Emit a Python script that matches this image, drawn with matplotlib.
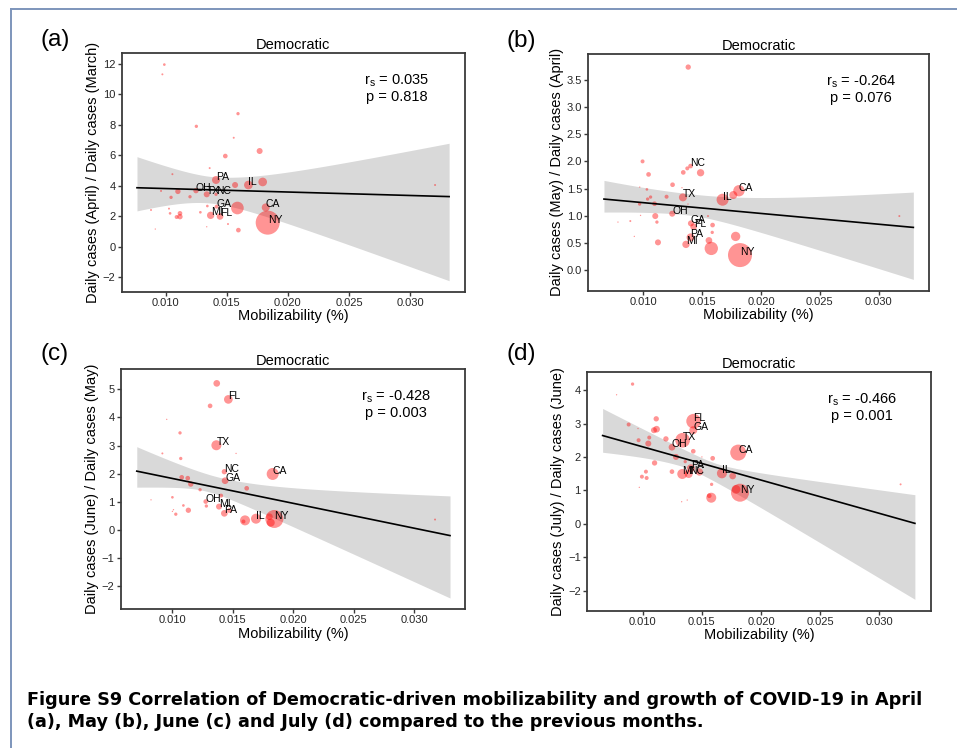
import numpy as np
import matplotlib
matplotlib.use('Agg')
import matplotlib.pyplot as plt
from matplotlib.lines import Line2D

plt.rcParams['font.family'] = ['Liberation Sans', 'DejaVu Sans']

# ---------------- data ----------------
# Panel (a): April / March
x_a = [0.00989, 0.00973, 0.01592, 0.01251, 0.01557, 0.01488, 0.01769, 0.0136, 0.01055,
       0.01412, 0.01568, 0.01677, 0.01794, 0.03205, 0.00962, 0.0110, 0.01248, 0.01336,
       0.01412, 0.01044, 0.01199, 0.01417, 0.01341, 0.01587, 0.01819, 0.01835, 0.01027,
       0.0088, 0.01284, 0.01036, 0.01117, 0.01368, 0.01445, 0.01117, 0.0109, 0.0151,
       0.01595, 0.00915, 0.01336]
y_a = [11.96, 11.32, 8.74, 7.91, 7.16, 5.96, 6.29, 5.17, 4.77,
       4.39, 4.06, 4.06, 4.26, 4.06, 3.67, 3.64, 3.69, 3.45,
       3.45, 3.25, 3.29, 2.64, 2.68, 2.55, 2.59, 1.59, 2.51,
       2.42, 2.27, 2.2, 2.2, 2.07, 2.0, 1.98, 1.96, 1.5,
       1.1, 1.17, 1.32]
w_a = [4, 3, 5, 5, 3, 7, 9, 3, 3,
       12, 9, 13, 13, 3, 3, 8, 8, 9,
       5, 5, 5, 6, 4, 19, 12, 36, 3,
       3, 4, 4, 7, 11, 10, 8, 6, 3,
       7, 2, 2]
lab_a = ['', '', '', '', '', '', '', '', '',
         'PA', '', 'IL', '', '', '', '', 'OH', 'TX',
         'NC', '', '', 'GA', '', '', 'CA', 'NY', '',
         '', '', '', '', 'MI', 'FL', '', '', '',
         '', '', '']

# Panel (b): May / April
x_b = [0.01382, 0.00994, 0.01402, 0.01374, 0.0134, 0.01487, 0.01045, 0.01249, 0.01329,
       0.0097, 0.01031, 0.01062, 0.01037, 0.01198, 0.01337, 0.0138, 0.01674, 0.01765,
       0.01813, 0.00969, 0.01096, 0.00977, 0.01102, 0.01246, 0.0155, 0.03176, 0.01116,
       0.0089, 0.00785, 0.01405, 0.01428, 0.01589, 0.01586, 0.00924, 0.01402, 0.01785,
       0.01558, 0.01125, 0.01363, 0.01578, 0.01822]
y_b = [3.739, 2.002, 1.916, 1.873, 1.799, 1.793, 1.762, 1.572, 1.517,
       1.529, 1.486, 1.345, 1.308, 1.351, 1.339, 1.216, 1.296, 1.382,
       1.461, 1.216, 1.222, 1.007, 0.995, 1.038, 0.995, 0.995, 0.884,
       0.903, 0.884, 0.86, 0.798, 0.829, 0.694, 0.62, 0.602, 0.62,
       0.546, 0.51, 0.473, 0.399, 0.276]
w_b = [8, 6, 7, 6, 7, 11, 7, 7, 2,
       2, 4, 5, 5, 6, 12, 2, 18, 12,
       17, 5, 7, 2, 9, 9, 3, 3, 5,
       3, 2, 9, 10, 7, 5, 2, 12, 14,
       10, 9, 11, 20, 36]
lab_b = ['', '', 'NC', '', '', '', '', '', '',
         '', '', '', '', '', 'TX', '', 'IL', '',
         'CA', '', '', '', '', 'OH', '', '', '',
         '', '', 'GA', 'FL', '', '', '', 'PA', '',
         '', '', 'MI', '', 'NY']

# Panel (c): June / May
x_c = [0.01367, 0.01463, 0.01312, 0.00953, 0.01063, 0.01364, 0.00917, 0.01527, 0.01069,
       0.0143, 0.0183, 0.01436, 0.01077, 0.01127, 0.01152, 0.01229, 0.01615, 0.01403,
       0.0100, 0.00823, 0.01276, 0.01281, 0.01091, 0.01386, 0.01009, 0.0100, 0.01028,
       0.01132, 0.0143, 0.01472, 0.01601, 0.01588, 0.01692, 0.01803, 0.01844, 0.01814,
       0.03174]
y_c = [5.21, 4.64, 4.41, 3.93, 3.45, 3.01, 2.72, 2.72, 2.54,
       2.07, 1.99, 1.75, 1.87, 1.84, 1.63, 1.43, 1.48, 1.22,
       1.16, 1.07, 1.01, 0.85, 0.87, 0.83, 0.72, 0.66, 0.56,
       0.70, 0.59, 0.69, 0.34, 0.30, 0.40, 0.47, 0.39, 0.26,
       0.37]
w_c = [10, 13, 7, 2, 5, 15, 3, 2, 5,
       8, 18, 10, 7, 7, 8, 5, 7, 6,
       4, 2, 7, 5, 4, 9, 2, 2, 5,
       8, 10, 7, 15, 6, 15, 10, 27, 12,
       3]
lab_c = ['', 'FL', '', '', '', 'TX', '', '', '',
         'NC', 'CA', 'GA', '', '', '', '', '', '',
         '', '', 'OH', '', '', 'MI', '', '', '',
         '', 'PA', '', '', '', 'IL', '', 'NY', '',
         '']

# Panel (d): July / June
x_d = [0.00915, 0.0078, 0.00882, 0.00961, 0.01115, 0.01118, 0.01096, 0.01431, 0.01428,
       0.01338, 0.00966, 0.01056, 0.01048, 0.01197, 0.01248, 0.01428, 0.01808, 0.01282,
       0.01501, 0.01592, 0.01101, 0.0136, 0.01408, 0.0149, 0.01335, 0.01389, 0.01479,
       0.01248, 0.0167, 0.01761, 0.01028, 0.00994, 0.01034, 0.00972, 0.01583, 0.01823,
       0.01789, 0.01563, 0.0158, 0.0133, 0.01377, 0.0318]
y_d = [4.18, 3.86, 2.97, 2.85, 3.14, 2.83, 2.80, 3.07, 2.80,
       2.50, 2.50, 2.58, 2.40, 2.54, 2.29, 2.17, 2.13, 2.0,
       2.0, 1.96, 1.82, 1.86, 1.66, 1.82, 1.49, 1.49, 1.55,
       1.56, 1.51, 1.43, 1.56, 1.41, 1.37, 1.09, 1.18, 0.93,
       1.03, 0.84, 0.78, 0.66, 0.71, 1.18]
w_d = [5, 2, 6, 2, 8, 10, 9, 22, 12,
       22, 6, 6, 9, 8, 10, 7, 24, 9,
       2, 7, 8, 5, 12, 2, 15, 12, 11,
       7, 15, 10, 6, 6, 6, 2, 5, 27,
       13, 7, 15, 2, 2, 3]
lab_d = ['', '', '', '', '', '', '', 'FL', 'GA',
         'TX', '', '', '', '', 'OH', '', 'CA', '',
         '', '', '', '', 'PA', '', 'MI', 'NC', '',
         '', 'IL', '', '', '', '', '', '', 'NY',
         '', '', '', '', '', '']

# Regression line ends (x range, y at ends) and confidence band edges
fit_x = {'a': (0.00765, 0.0332), 'b': (0.00666, 0.03295), 'c': (0.00705, 0.03298), 'd': (0.00662, 0.03301)}
fit_y = {'a': (3.88, 3.30), 'b': (1.308, 0.786), 'c': (2.09, -0.20), 'd': (2.64, 0.013)}
band_hi = {'a': (5.92, 6.80), 'b': (1.652, 1.437), 'c': (2.96, 1.21), 'd': (3.45, 0.87)}
band_lo = {'a': (2.36, -2.22), 'b': (1.068, -0.172), 'c': (1.52, -2.42), 'd': (2.14, -2.26)}
# (x of narrowest point, half width there) for upper and lower edge
band_hi_mid = {'a': (0.0145, 0.85), 'b': (0.0150, 0.24), 'c': (0.0145, 0.38), 'd': (0.0165, 0.12)}
band_lo_mid = {'a': (0.0130, 0.85), 'b': (0.0135, 0.15), 'c': (0.0125, 0.20), 'd': (0.0130, 0.25)}

rs_vals = {'a': '0.035', 'b': '-0.264', 'c': '-0.428', 'd': '-0.466'}
p_vals = {'a': '0.818', 'b': '0.076', 'c': '0.003', 'd': '0.001'}
ylabels = {'a': 'Daily cases (April) / Daily cases (March)',
           'b': 'Daily cases (May) / Daily cases (April)',
           'c': 'Daily cases (June) / Daily cases (May)',
           'd': 'Daily cases (July) / Daily cases (June)'}
yticks = {'a': [-2, 0, 2, 4, 6, 8, 10, 12],
          'b': [0.0, 0.5, 1.0, 1.5, 2.0, 2.5, 3.0, 3.5],
          'c': [-2, -1, 0, 1, 2, 3, 4, 5],
          'd': [-2, -1, 0, 1, 2, 3, 4]}
xticks = [0.010, 0.015, 0.020, 0.025, 0.030]

caption1 = 'Figure S9 Correlation of Democratic-driven mobilizability and growth of COVID-19 in April'
caption2 = '(a), May (b), June (c) and July (d) compared to the previous months.'

# ---------------- layout ----------------
W, H = 957, 748
fig = plt.figure(figsize=(W / 100, H / 100), dpi=100)

def px_axes(x0, y0, x1, y1):
    return [x0 / W, 1 - y1 / H, (x1 - x0) / W, (y1 - y0) / H]

rects = {'a': px_axes(121.7, 52.7, 465, 291.7),
         'b': px_axes(588.3, 54, 929, 290.7),
         'c': px_axes(120.7, 369.3, 465, 609),
         'd': px_axes(587, 371.7, 931, 610.7)}
xlims = {'a': (0.0064, 0.0345), 'b': (0.00533, 0.03428), 'c': (0.00572, 0.03422), 'd': (0.0053, 0.03437)}
ylims = {'a': (-2.94, 12.74), 'b': (-0.38, 3.98), 'c': (-2.81, 5.71), 'd': (-2.6, 4.55)}
panel_pos = {'a': (55, 40), 'b': (521.5, 41.5), 'c': (54.5, 354), 'd': (521.5, 354)}

data = {'a': (x_a, y_a, w_a, lab_a), 'b': (x_b, y_b, w_b, lab_b),
        'c': (x_c, y_c, w_c, lab_c), 'd': (x_d, y_d, w_d, lab_d)}

spine_col = '#3a3a3a'


def edge_width(xs, x0, x1, d0, d1, xc, h0):
    kL = (d0 ** 2 - h0 ** 2) / (xc - x0) ** 2
    kR = (d1 ** 2 - h0 ** 2) / (x1 - xc) ** 2
    k = np.where(xs < xc, kL, kR)
    return np.sqrt(h0 ** 2 + k * (xs - xc) ** 2)


for key in ['a', 'b', 'c', 'd']:
    ax = fig.add_axes(rects[key])
    xs_, ys_, ws_, labs_ = data[key]
    xs_ = np.array(xs_)
    ys_ = np.array(ys_)
    ws_ = np.array(ws_, dtype=float)

    # regression line + band
    x0, x1 = fit_x[key]
    y0, y1 = fit_y[key]
    xx = np.linspace(x0, x1, 200)
    line = y0 + (y1 - y0) * (xx - x0) / (x1 - x0)
    du0 = band_hi[key][0] - y0
    du1 = band_hi[key][1] - y1
    dl0 = y0 - band_lo[key][0]
    dl1 = y1 - band_lo[key][1]
    up = line + edge_width(xx, x0, x1, du0, du1, *band_hi_mid[key])
    lo = line - edge_width(xx, x0, x1, dl0, dl1, *band_lo_mid[key])
    ax.fill_between(xx, lo, up, color='black', alpha=0.15, lw=0, zorder=1)

    ax.scatter(xs_, ys_, s=0.2304 * ws_ ** 2, color='red', alpha=0.42, lw=0, zorder=3)
    ax.plot([x0, x1], [y0, y1], color='black', lw=1.2, zorder=4)

    for xv, yv, lb in zip(xs_, ys_, labs_):
        if lb:
            ax.text(xv, yv, lb, fontsize=7.5, ha='left', va='baseline', zorder=5, color='black')

    ax.set_xlim(*xlims[key])
    ax.set_ylim(*ylims[key])
    ax.set_xticks(xticks)
    ax.set_xticklabels(['%.3f' % t for t in xticks])
    ax.set_yticks(yticks[key])
    if key == 'b':
        ax.set_yticklabels(['%.1f' % t for t in yticks[key]])
    else:
        ax.set_yticklabels([('\u2212%d' % -t) if t < 0 else '%d' % t for t in yticks[key]])
    ax.tick_params(direction='out', length=3, width=1, color=spine_col, labelsize=8,
                   labelcolor='#262626', pad=1.5)
    for sp in ax.spines.values():
        sp.set_color(spine_col)
        sp.set_linewidth(1.3)
    ax.set_title('Democratic', fontsize=10.5, pad=3)
    ax.set_xlabel('Mobilizability (%)', fontsize=10.5, labelpad=1)
    ax.set_ylabel(ylabels[key], fontsize=10.5, labelpad=2)
    ax.text(0.80, 0.853, 'r$_\\mathregular{s}$ = %s\np = %s' % (rs_vals[key], p_vals[key]),
            transform=ax.transAxes, ha='center', va='center', multialignment='center',
            fontsize=10.5, linespacing=1.1)

    px, py = panel_pos[key]
    fig.text(px / W, 1 - py / H, '(%s)' % key, fontsize=17.5, ha='center', va='center')

# caption
fig.text(27 / W, 1 - 705 / H, caption1, fontsize=12.7, fontweight='bold',
         family=['DejaVu Sans'], ha='left', va='baseline')
fig.text(27 / W, 1 - 727 / H, caption2, fontsize=12.7, fontweight='bold',
         family=['DejaVu Sans'], ha='left', va='baseline')

# page frame
frame_col = '#7d95bb'
fig.add_artist(Line2D([10.5 / W, 10.5 / W], [0, 1 - 9 / H], transform=fig.transFigure,
                      color=frame_col, lw=1.4))
fig.add_artist(Line2D([10.5 / W, 1], [1 - 9 / H, 1 - 9 / H], transform=fig.transFigure,
                      color=frame_col, lw=1.4))

fig.savefig('out.png', dpi=100)
